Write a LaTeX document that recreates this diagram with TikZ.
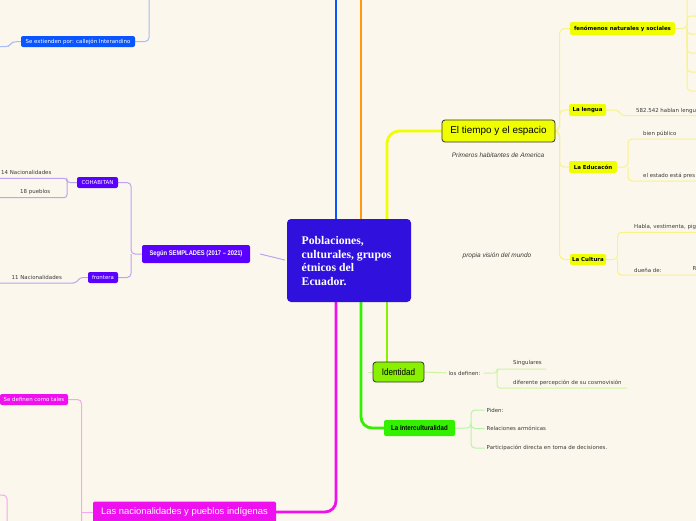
\documentclass[tikz,border=0pt]{standalone}
\usepackage{fontspec}
\setmainfont{DejaVu Sans}
\newfontfamily\lib{Liberation Sans}
\newfontfamily\libser{Liberation Serif}
\usetikzlibrary{backgrounds}
\definecolor{bg}{HTML}{FBF7EC}
\definecolor{cblue}{HTML}{3010DC}
\definecolor{tblue}{HTML}{0A55FF}
\definecolor{lblue}{HTML}{A9BCEF}
\definecolor{torange}{HTML}{FF9A10}
\definecolor{tyellow}{HTML}{F0FF00}
\definecolor{lyellow}{HTML}{F7F38A}
\definecolor{tmag}{HTML}{EE10EE}
\definecolor{lmag}{HTML}{F5A8F0}
\definecolor{tgreen}{HTML}{33F000}
\definecolor{lgreen}{HTML}{B5F5A5}
\definecolor{tlime}{HTML}{88F000}
\definecolor{llime}{HTML}{CDF5A0}
\definecolor{tpurple}{HTML}{5A00FF}
\definecolor{lpurple}{HTML}{BCA4F2}
\definecolor{leafc}{HTML}{3A3A3A}
\definecolor{bordc}{HTML}{333333}
\begin{document}
\begin{tikzpicture}[x=1pt,y=-1pt,
  trunk/.style={line width=2.8pt, rounded corners=11pt},
  conn/.style={line width=1pt, rounded corners=4pt},
  box/.style={rounded corners=2pt, inner sep=0pt, align=center},
  smallw/.style={font=\fontsize{5.45}{6.5}\selectfont, text=white},
  ybox/.style={box, fill=tyellow, font=\bfseries\fontsize{5.45}{6.5}\selectfont, text=black},
  leaf/.style={font=\fontsize{5.45}{6.5}\selectfont, text=leafc, inner sep=0pt, anchor=west},
  ital/.style={font=\lib\itshape\fontsize{6.5}{7.5}\selectfont, text=leafc, inner sep=0pt}
]
\useasboundingbox (0,0) rectangle (696,520);
\begin{scope}
\clip (0,0) rectangle (696,520);
% central
\node[box, fill=cblue, minimum width=124pt, minimum height=83pt, rounded corners=4pt] (center) at (349,260.5) {};
\node[anchor=west, text=white, font=\libser\bfseries\fontsize{11.7}{13.5}\selectfont, align=left, inner sep=0pt] (ctitle) at (301.5,261) {Poblaciones,\\culturales, grupos\\étnicos del\\Ecuador.};
% left
\node[box, fill=tpurple, minimum width=108pt, minimum height=18pt, font=\lib\bfseries\fontsize{6.8}{8}\selectfont, text=white] (sempl) at (196,254) {\scalebox{0.85}[1]{Según SEMPLADES (2017 – 2021)}};
\node[box, fill=tpurple, minimum width=41pt, minimum height=11pt, smallw] (cohab) at (97.5,182.5) {COHABITAN};
\node[box, fill=tpurple, minimum width=30pt, minimum height=11pt, smallw] (front) at (103,277.5) {frontera};
\node[box, fill=tblue, minimum width=114pt, minimum height=11pt, smallw] (callejon) at (78,41.5) {Se extienden por: callejón Interandino};
\node[box, fill=tmag, minimum width=68pt, minimum height=11pt, smallw] (definen) at (34,399.5) {Se definen como tales};
\node[box, fill=tmag, minimum width=183pt, minimum height=21pt, font=\lib\fontsize{9.4}{11}\selectfont, text=white] (nacion) at (184.5,512) {Las nacionalidades y pueblos indígenas};
\node[leaf] (t14) at (1,172) {14 Nacionalidades};
\node[leaf] (t18) at (20,192) {18 pueblos};
\node[leaf] (t11) at (11.5,277) {11 Nacionalidades};
% right
\node[box, fill=tyellow, draw=bordc, line width=0.8pt, rounded corners=3pt, minimum width=113pt, minimum height=22pt, font=\lib\fontsize{9.9}{11}\selectfont, text=black] (tiempo) at (498.5,131) {El tiempo y el espacio};
\node[ital] (prim) at (498,155.5) {Primeros habitantes de America};
\node[ital] (propia) at (497,255.7) {propia visión del mundo};
\node[ybox, minimum width=105pt, minimum height=13pt] (fenom) at (622.5,28.5) {fenómenos naturales y sociales};
\node[ybox, minimum width=37pt, minimum height=12pt] (lengua) at (587.5,110) {La lengua};
\node[ybox, minimum width=48pt, minimum height=12pt] (educ) at (593,167) {La Educacón};
\node[ybox, minimum width=36pt, minimum height=11pt] (cultura) at (588,259.5) {La Cultura};
\node[leaf] (lentxt) at (636,110.7) {582.542 hablan lengu};
\node[leaf] (bien) at (643,134) {bien público};
\node[leaf] (estado) at (643,176) {el estado está pres};
\node[leaf] (habla) at (634,227) {Habla, vestimenta, pig};
\node[leaf] (duena) at (634,270) {dueña de:};
\node[leaf] (rtxt) at (692.5,269) {R};
% bottom right
\node[box, fill=tlime, draw=bordc, line width=0.8pt, rounded corners=3pt, minimum width=51pt, minimum height=20pt, font=\lib\fontsize{9.5}{11}\selectfont, text=black] (ident) at (398.5,372) {\scalebox{0.85}[1]{Identidad}};
\node[box, fill=tgreen, minimum width=71pt, minimum height=16pt, font=\lib\bfseries\fontsize{7}{8}\selectfont, text=black] (inter) at (419.5,428) {\scalebox{0.87}[1]{La Interculturalidad}};
\node[leaf] (losdef) at (448.5,373) {los definen:};
\node[leaf] (sing) at (513,363) {Singulares};
\node[leaf] (difer) at (513,383) {diferente percepción de su cosmovisión};
\node[leaf] (piden) at (486.5,410) {Piden:};
\node[leaf] (relac) at (486.5,428.5) {Relaciones armónicas};
\node[leaf] (partic) at (486.5,448) {Participación directa en toma de decisiones.};
\end{scope}

\begin{scope}[on background layer]
\clip (0,0) rectangle (696,520);
\fill[bg] (-5,-5) rectangle (701,525);
% coordinates
\coordinate (xb) at (336,-10);
\coordinate (xo) at (361,-10);
\coordinate (xy) at (387,-10);
% trunks
\draw[trunk, tblue] (center.north -| xb) -- (xb);
\draw[trunk, torange] (center.north -| xo) -- (xo);
\draw[trunk, tyellow, line width=2.6pt, rounded corners=12pt] (center.north -| xy) |- (tiempo.west);
\draw[trunk, tmag] (center.south -| xb) |- (nacion.east);
\draw[trunk, tgreen] (center.south -| xo) |- (inter.west);
\draw[trunk, tlime] (center.south -| xy) -- (ident.north -| xy);
\draw[conn, llime] (ident.west) -- ++(-5,0);
% purple
\coordinate (xs) at (131,0);
\coordinate (xc) at (67,0);
\coordinate (e14) at (-2,178.3);
\coordinate (e18) at (-2,197.7);
\coordinate (f1) at (80,277.5);
\coordinate (f2) at (76,283);
\coordinate (e11) at (-2,283);
\draw[conn, lpurple, shorten >=2pt] ([xshift=10pt]sempl.east) -- (center.west);
\draw[conn, lpurple] (sempl.west) -- (sempl.west -| xs) |- (cohab.east);
\draw[conn, lpurple] (sempl.west -| xs) |- (front.east);
\draw[conn, lpurple, rounded corners=3pt] (cohab.west) -- (cohab.west -| xc) |- (e14);
\draw[conn, lpurple, rounded corners=3pt] (cohab.west -| xc) |- (e18);
\draw[conn, lpurple, rounded corners=3pt] (front.west) -- (f1) -- (f2) -- (e11);
% blue
\coordinate (ctop) at (149,-5);
\coordinate (cl1) at (12,42);
\coordinate (cl2) at (9,46.5);
\coordinate (cl3) at (-2,46.5);
\draw[conn, lblue] (callejon.east) -| (ctop);
\draw[conn, lblue, rounded corners=3pt] (callejon.west) -- (cl1) -- (cl2) -- (cl3);
% magenta
\coordinate (xm) at (81.5,0);
\coordinate (mbot) at (81.5,530);
\coordinate (pk1) at (-2,495);
\coordinate (pk2) at (7,495);
\coordinate (pk3) at (7,530);
\draw[conn, lmag] (definen.east) -| (mbot);
\draw[conn, lmag] (nacion.west) -- (nacion.west -| xm);
\draw[conn, lmag] (pk1) -- (pk2) -- (pk3);
% yellow right
\coordinate (xy2) at (559.5,0);
\foreach \n in {fenom, lengua, educ, cultura}
  \draw[conn, lyellow, rounded corners=5pt] (tiempo.east) -- (tiempo.east -| xy2) |- (\n.west);
\coordinate (xf) at (687,0);
\coordinate (ftop) at (687,-5);
\draw[conn, lyellow] (fenom.east) -- (fenom.east -| xf) -- (ftop);
\foreach \yy in {16,34,53,72,91}
  \draw[conn, lyellow] (fenom.east -| xf) |- (705,\yy);
\coordinate (lg1) at (618,110);
\coordinate (lg2) at (622,115.7);
\coordinate (lg3) at (705,115.7);
\draw[conn, lyellow, rounded corners=3pt] (lengua.east) -- (lg1) -- (lg2) -- (lg3);
\coordinate (xe) at (628,0);
\coordinate (ee1) at (705,139);
\coordinate (ee2) at (705,181);
\draw[conn, lyellow] (educ.east) -- (educ.east -| xe) |- (ee1);
\draw[conn, lyellow] (educ.east -| xe) |- (ee2);
\coordinate (xcu) at (617.5,0);
\coordinate (cu1) at (705,232.3);
\coordinate (cu2) at (705,275);
\draw[conn, lyellow] (cultura.east) -- (cultura.east -| xcu) |- (cu1);
\draw[conn, lyellow] (cultura.east -| xcu) |- (cu2);
% identidad
\coordinate (xi) at (497,0);
\coordinate (si) at (546,369);
\coordinate (di) at (627,388);
\draw[conn, llime, shorten >=2pt] (ident.east) -- (losdef.west);
\draw[conn, llime, rounded corners=3pt, shorten <=3pt] (losdef.east) -- (losdef.east -| xi) |- (si);
\draw[conn, llime, rounded corners=3pt] (losdef.east -| xi) |- (di);
% interculturalidad
\coordinate (xi2) at (471,0);
\draw[conn, lgreen] (inter.east) -- (inter.east -| xi2) |- ([xshift=-2pt]piden.west);
\draw[conn, lgreen] (inter.east -| xi2) |- ([xshift=-2pt]relac.west);
\draw[conn, lgreen] (inter.east -| xi2) |- ([xshift=-2pt]partic.west);
\end{scope}
\end{tikzpicture}
\end{document}
